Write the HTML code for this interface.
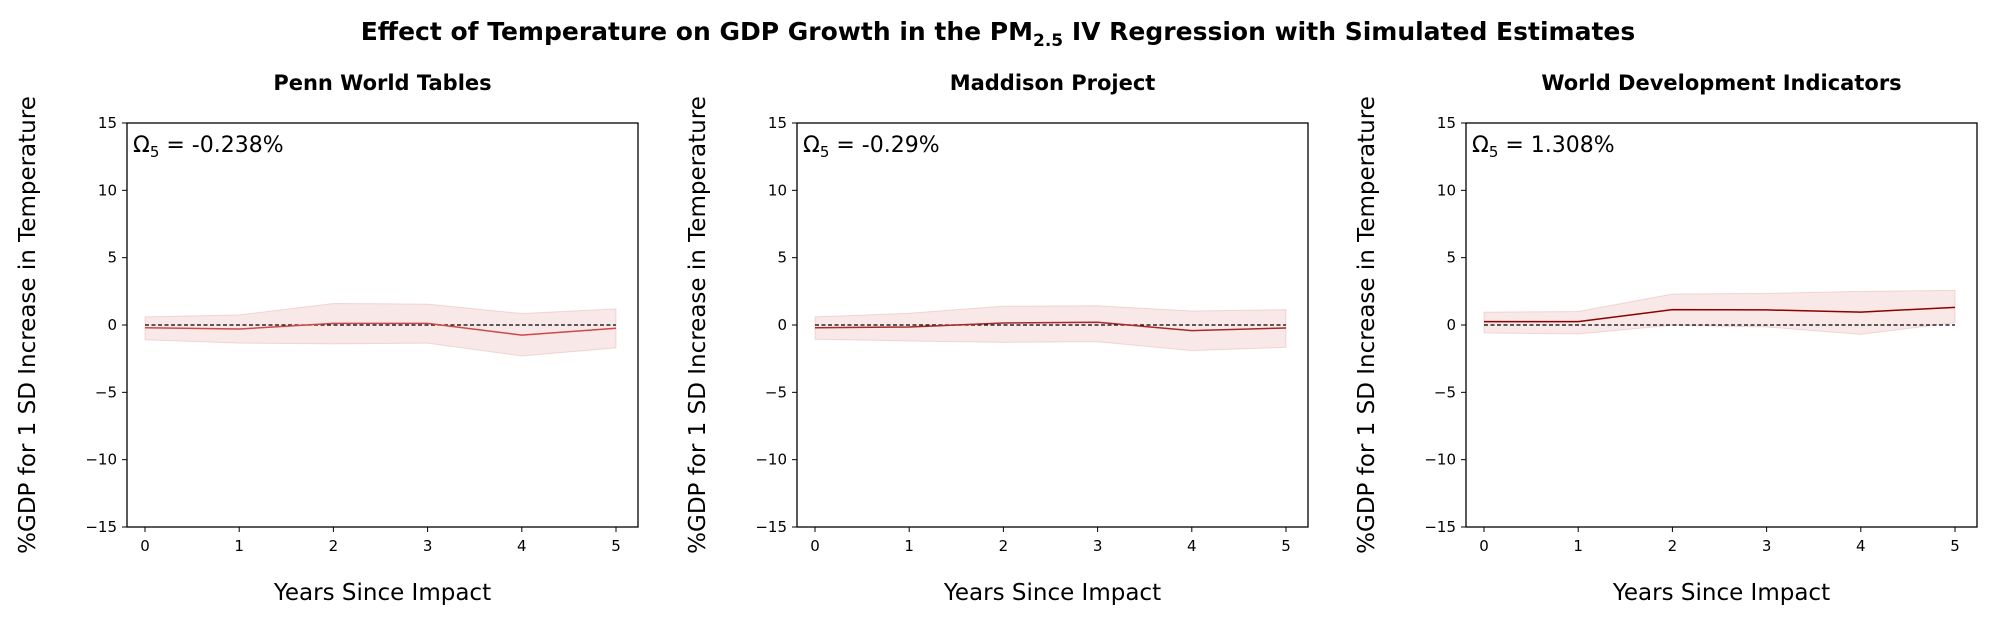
<!DOCTYPE html>
<html><head><meta charset="utf-8"><style>
body{margin:0;background:#fff;}
svg{display:block;font-family:"DejaVu Sans","Liberation Sans",sans-serif;}
</style></head><body>
<svg id="chart" width="1996" height="624">
<text x="998" y="40" text-anchor="middle" font-size="25" font-weight="bold">Effect of Temperature on GDP Growth in the PM<tspan font-size="17" dy="6">2.5</tspan><tspan dy="-6"> IV Regression with Simulated Estimates</tspan></text>
</svg>
<script>
const years=[0,1,2,3,4,5];
const yTicks=[-15,-10,-5,0,5,10,15];
const panelTitles=["Penn World Tables","Maddison Project","World Development Indicators"];
const omegaLabels=["-0.238%","-0.29%","1.308%"];
const meanPWT=[-0.2,-0.3,0.12,0.12,-0.75,-0.24];
const upperPWT=[0.6,0.75,1.6,1.55,0.85,1.2];
const lowerPWT=[-1.1,-1.35,-1.4,-1.35,-2.3,-1.7];
const meanMAD=[-0.2,-0.15,0.15,0.2,-0.42,-0.22];
const upperMAD=[0.6,0.87,1.4,1.43,1.04,1.14];
const lowerMAD=[-1.06,-1.19,-1.29,-1.24,-1.9,-1.66];
const meanWDI=[0.25,0.25,1.14,1.12,0.96,1.31];
const upperWDI=[0.96,1.0,2.3,2.35,2.5,2.57];
const lowerWDI=[-0.59,-0.67,-0.02,-0.15,-0.7,0.17];
const means=[meanPWT,meanMAD,meanWDI];
const uppers=[upperPWT,upperMAD,upperWDI];
const lowers=[lowerPWT,lowerMAD,lowerWDI];
const lineColors=["#d04848","#a82828","#8b0000"];
const lefts=[127,797,1466];
const W=511, TOP=123, BOT=527;
const NS="http://www.w3.org/2000/svg";
const svg=document.getElementById("chart");
function mk(tag,attrs,parent){const e=document.createElementNS(NS,tag);for(const k in attrs)e.setAttribute(k,attrs[k]);(parent||svg).appendChild(e);return e;}
for(let p=0;p<3;p++){
  const L=lefts[p];
  const xs=v=>L+18+v*(W-40)/5;
  const ys=v=>TOP+(15-v)*(BOT-TOP)/30;
  const g=mk("g",{});
  
  
  const t=mk("text",{x:L+W/2,y:90,"text-anchor":"middle","font-size":21,"font-weight":"bold"},g);
  t.textContent=panelTitles[p];
  
  
  let pts=years.map((y,i)=>xs(y)+","+ys(uppers[p][i]));
  pts=pts.concat(years.slice().reverse().map((y,j)=>xs(y)+","+ys(lowers[p][5-j])));
  const band=mk("polygon",{points:pts.join(" "),fill:"rgba(200,80,80,0.13)",stroke:"rgba(200,80,80,0.18)","stroke-width":1},g);
  
  
  const z=mk("line",{x1:xs(0),x2:xs(5),y1:ys(0),y2:ys(0),stroke:"#000","stroke-width":1.3,"stroke-dasharray":"4,2.5"},g);
  
  
  const ln=mk("polyline",{points:years.map((y,i)=>xs(y)+","+ys(means[p][i])).join(" "),fill:"none",stroke:lineColors[p],"stroke-width":1.5},g);
  
  
  const fr=mk("rect",{x:L,y:TOP,width:W,height:BOT-TOP,fill:"none",stroke:"#000","stroke-width":1.3},g);
  
  
  yTicks.forEach(v=>{
    mk("line",{x1:L-5,x2:L,y1:ys(v),y2:ys(v),stroke:"#000","stroke-width":1},g);
    const tl=mk("text",{x:L-10,y:ys(v)+5,"text-anchor":"end","font-size":15},g);
    tl.textContent=v<0?"\u2212"+(-v):String(v);
    
    
  });
  years.forEach(v=>{
    mk("line",{x1:xs(v),x2:xs(v),y1:BOT,y2:BOT+5,stroke:"#000","stroke-width":1},g);
    const tl=mk("text",{x:xs(v),y:BOT+24,"text-anchor":"middle","font-size":15},g);
    tl.textContent=String(v);
    
    
  });
  const xl=mk("text",{x:L+W/2,y:600,"text-anchor":"middle","font-size":23},g);
  xl.textContent="Years Since Impact";
  
  
  const yl=mk("text",{x:0,y:0,"text-anchor":"middle","font-size":23,transform:"translate("+(L-92)+","+((TOP+BOT)/2)+") rotate(-90)"},g);
  yl.textContent="%GDP for 1 SD Increase in Temperature";
  
  
  const om=mk("text",{x:L+6,y:152,"font-size":22},g);
  om.innerHTML='\u03A9<tspan font-size="15" dy="5">5</tspan><tspan dy="-5"> = '+omegaLabels[p]+'</tspan>';
  
  
}
</script>
</body></html>
